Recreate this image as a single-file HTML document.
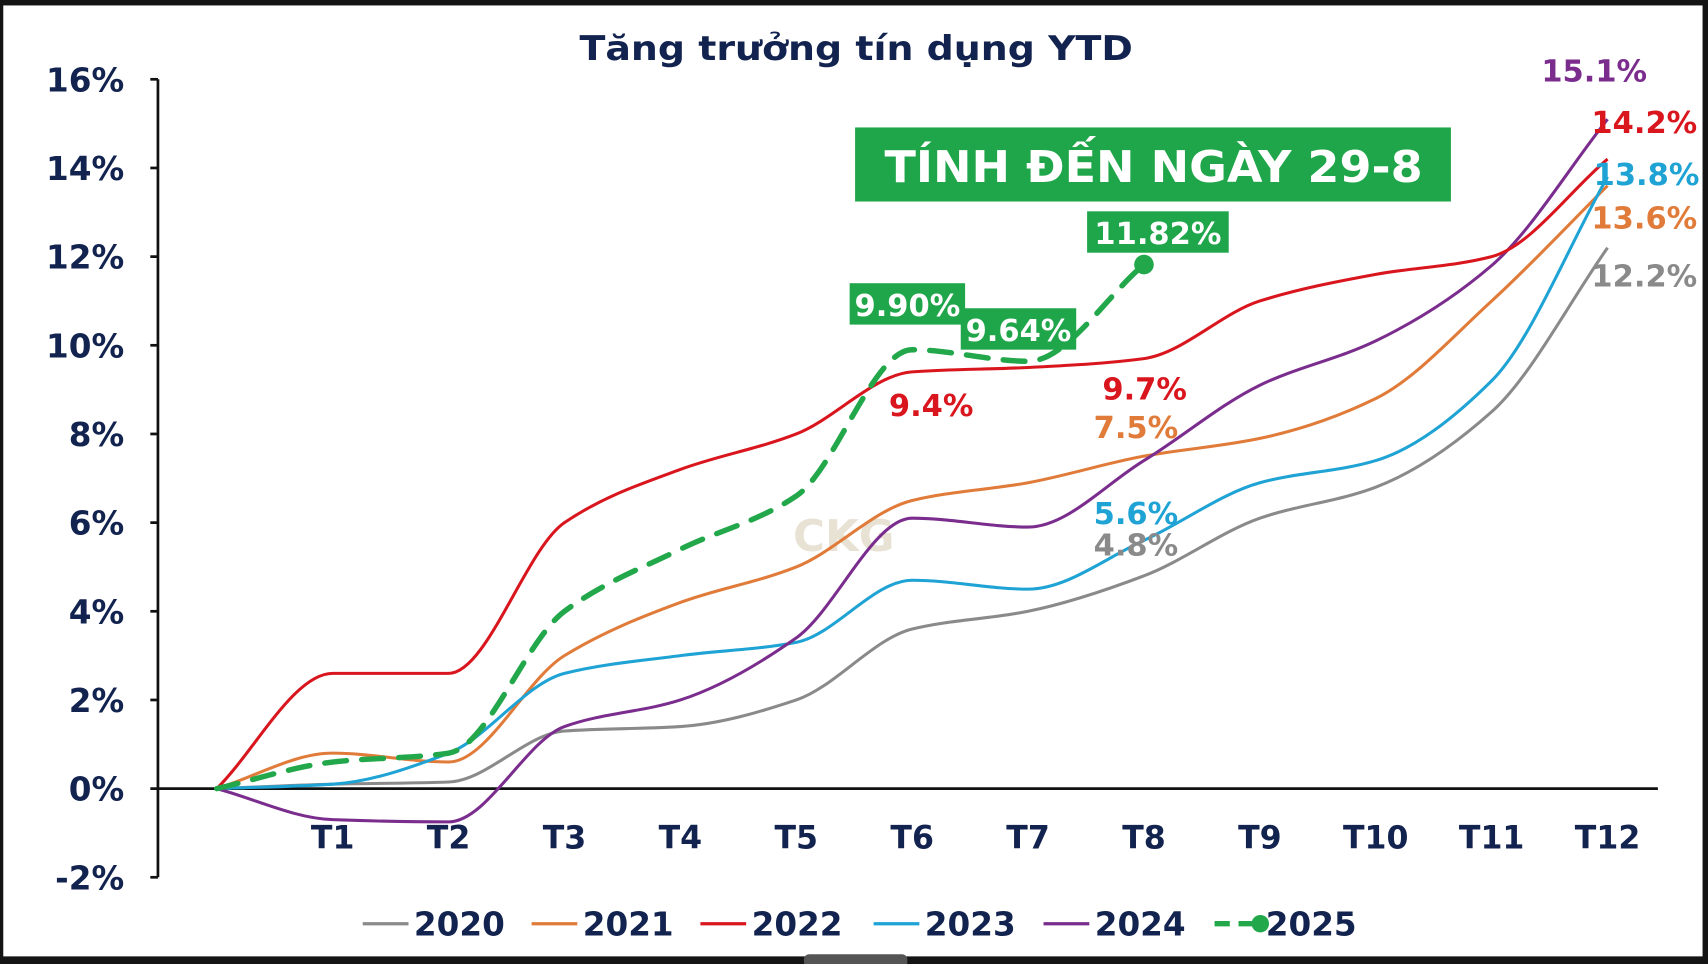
<!DOCTYPE html>
<html><head><meta charset="utf-8"><style>
html,body{margin:0;padding:0;background:#141414;}
svg{display:block;}
text{font-family:"DejaVu Sans","Liberation Sans",sans-serif;font-weight:bold;}
</style></head><body>
<svg id="chart" width="1708" height="964" viewBox="0 0 1568 885" preserveAspectRatio="none">
<rect x="3" y="5" width="1560" height="873" fill="#ffffff"/>
<text x="532" y="55" font-size="31" fill="#13234f" textLength="508" lengthAdjust="spacingAndGlyphs">Tăng trưởng tín dụng YTD</text>
<text x="728" y="506" font-size="40" fill="#e8e2d4">CKG</text>
<g id="axes"></g>
<g id="series"></g>
<g id="labels"></g>
<rect x="785" y="117" width="547" height="68" fill="#1fa64a"/>
<text x="812" y="167" font-size="40" fill="#ffffff" textLength="494" lengthAdjust="spacingAndGlyphs">TÍNH ĐẾN NGÀY 29-8</text>
<g id="legend"></g>
<rect x="738" y="876" width="95" height="12" rx="5" fill="#555"/>
</svg>
<script>
const categories=["","T1","T2","T3","T4","T5","T6","T7","T8","T9","T10","T11","T12"];
const yTicks=[-2,0,2,4,6,8,10,12,14,16];
const years=["2020","2021","2022","2023","2024","2025"];
const s2020=[0,0.1,0.15,1.3,1.4,2.0,3.6,4.0,4.8,6.1,6.8,8.5,12.2];
const s2021=[0,0.8,0.6,3.0,4.2,5.0,6.5,6.9,7.5,7.9,8.8,11.0,13.6];
const s2022=[0,2.6,2.6,6.0,7.2,8.0,9.4,9.5,9.7,11.0,11.6,12.0,14.2];
const s2023=[0,0.1,0.8,2.6,3.0,3.3,4.7,4.5,5.6,6.9,7.4,9.2,13.8];
const s2024=[0,-0.7,-0.75,1.4,2.0,3.4,6.1,5.9,7.4,9.1,10.1,11.8,15.1];
const s2025=[0,0.6,0.8,4.0,5.4,6.6,9.9,9.64,11.82];
const colors=["#8a8a8a","#e07b39","#d9161e","#1ea3d4","#7b2d8e","#22a84a"];
const NS="http://www.w3.org/2000/svg";
const X=i=>199+i*106.4;
const Y=v=>724-v*40.7;
function mk(tag,attrs,parent){const e=document.createElementNS(NS,tag);for(const k in attrs)e.setAttribute(k,attrs[k]);parent.appendChild(e);return e;}
const axes=document.getElementById('axes');
let yl=mk('line',{x1:145,y1:Y(16),x2:145,y2:Y(-2),stroke:'#111','stroke-width':2.5},axes);


yTicks.forEach(t=>{
 let l=mk('line',{x1:138,y1:Y(t),x2:145,y2:Y(t),stroke:'#111','stroke-width':2.5},axes);
 
 
 let tx=mk('text',{x:114,y:Y(t)+11,'font-size':30,fill:'#13234f','text-anchor':'end'},axes);
 tx.textContent=t+'%';
 
 
});
let xl=mk('line',{x1:145,y1:Y(0),x2:1522,y2:Y(0),stroke:'#111','stroke-width':2.5},axes);


categories.forEach((c,i)=>{if(!c)return;
 let tx=mk('text',{x:X(i),y:779,'font-size':29,fill:'#13234f','text-anchor':'middle'},axes);
 tx.textContent=c;
 
 
});
function smooth(vals){
 const p=vals.map((v,i)=>[X(i),Y(v)]);
 const n=p.length, h=p[1][0]-p[0][0];
 const dl=[];for(let i=0;i<n-1;i++)dl.push((p[i+1][1]-p[i][1])/h);
 const m=[];
 for(let i=0;i<n;i++){
  if(i==0)m.push(dl[0]);else if(i==n-1)m.push(dl[n-2]);
  else{ if(dl[i-1]*dl[i]<=0)m.push(0); else m.push(2/(1/dl[i-1]+1/dl[i])); }
 }
 let d='M'+p[0][0]+','+p[0][1];
 for(let i=0;i<n-1;i++){
  d+=' C'+(p[i][0]+h/3)+','+(p[i][1]+m[i]*h/3)+' '+(p[i+1][0]-h/3)+','+(p[i+1][1]-m[i+1]*h/3)+' '+p[i+1][0]+','+p[i+1][1];
 }
 return d;
}
const sg=document.getElementById('series');
const all=[s2020,s2021,s2023,s2024,s2022];
const ci=[0,1,3,4,2];
all.forEach((s,k)=>{
 let p=mk('path',{d:smooth(s),fill:'none',stroke:colors[ci[k]],'stroke-width':2.8},sg);
 
 
});
let g25=mk('path',{d:smooth(s2025),fill:'none',stroke:colors[5],'stroke-width':5,'stroke-dasharray':'20,14','stroke-linecap':'round'},sg);


let dot=mk('circle',{cx:X(s2025.length-1),cy:Y(s2025[s2025.length-1]),r:9,fill:colors[5]},sg);


const lb=document.getElementById('labels');
function label(txt,x,y,col,size){let t=mk('text',{x:x,y:y,'font-size':size||28,fill:col},lb);t.textContent=txt;
 
 return t;}
function boxLabel(txt,x,y,w){let r=mk('rect',{x:x,y:y,width:w,height:38,fill:'#1fa64a'},lb);
 
 
 let t=mk('text',{x:x+w/2,y:y+30,'font-size':28,fill:'#fff','text-anchor':'middle'},lb);t.textContent=txt;
 
 }
const last=12;
label(s2024[last].toFixed(1)+'%',1415,75,colors[4]);
label(s2022[last].toFixed(1)+'%',1461,122,colors[2]);
label(s2023[last].toFixed(1)+'%',1463,170,colors[3]);
label(s2021[last].toFixed(1)+'%',1461,210,colors[1]);
label(s2020[last].toFixed(1)+'%',1461,263,colors[0]);
label(s2022[6].toFixed(1)+'%',816,382,colors[2]);
label(s2022[8].toFixed(1)+'%',1012,367,colors[2]);
label(s2021[8].toFixed(1)+'%',1004,402,colors[1]);
label(s2023[8].toFixed(1)+'%',1004,481,colors[3]);
label(s2020[8].toFixed(1)+'%',1004,510,colors[0]);
boxLabel(s2025[6].toFixed(2)+'%',780,260,106);
boxLabel(s2025[7].toFixed(2)+'%',882,283,106);
boxLabel(s2025[8].toFixed(2)+'%',998,194,130);
const lg=document.getElementById('legend');
const lx=[333,488,643,802,958,1115];
years.forEach((y,i)=>{
 let l=mk('line',{x1:lx[i],y1:848,x2:lx[i]+42,y2:848,stroke:colors[i],'stroke-width':i==5?5:3,'stroke-dasharray':i==5?'14,8':'none'},lg);
 
 
 if(i==5){let c=mk('circle',{cx:lx[i]+42,cy:848,r:8,fill:colors[5]},lg);
  
  }
 let t=mk('text',{x:lx[i]+47,y:859,'font-size':30,fill:'#13234f'},lg);t.textContent=y;
 
 
});
</script>
</body></html>
